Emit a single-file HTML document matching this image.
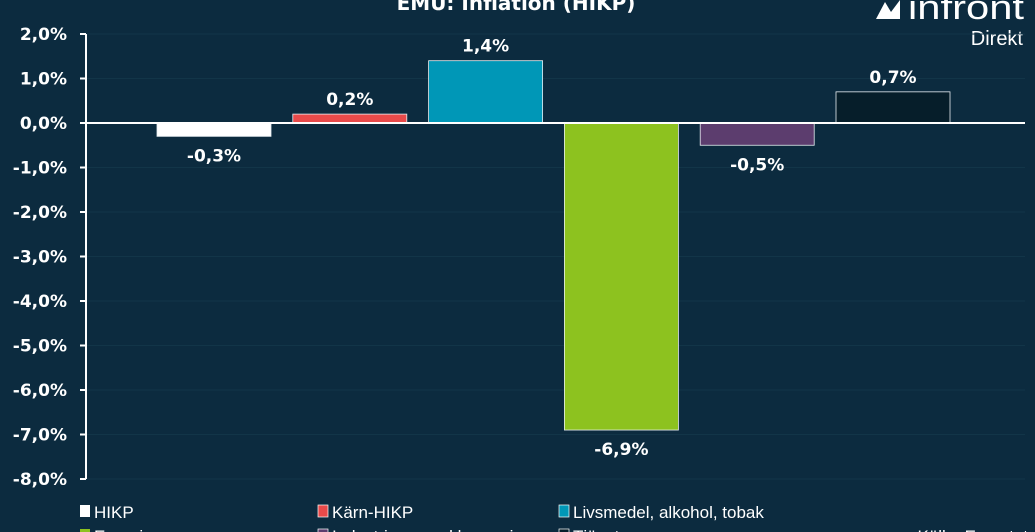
<!DOCTYPE html>
<html><head><meta charset="utf-8"><style>
body{margin:0;background:#0c2b3f;width:1035px;height:532px;overflow:hidden}
svg{display:block}
text{font-family:"DejaVu Sans",Verdana,sans-serif;fill:#fff}
.leg{font-family:"Liberation Sans",sans-serif;font-size:17px}
</style></head><body>
<svg id="c" width="1035" height="532">
<rect width="1035" height="532" fill="#0c2b3f"/>
<text x="516" y="10" text-anchor="middle" font-size="20" font-weight="bold">EMU: Inflation (HIKP)</text>
<g>
<polygon points="876,19 885,2 891,12 900,0 900,19" fill="#fff"/>
<text x="908" y="19" font-size="34" style="font-family:'Liberation Sans',sans-serif;font-weight:300" textLength="116" lengthAdjust="spacingAndGlyphs">infront</text>
<text x="1023" y="45" text-anchor="end" font-size="20" style="font-family:'Liberation Sans',sans-serif">Direkt</text>
</g>
<g id="grid"></g><g id="bars"></g><g id="axis"></g>
<g class="leg">
<rect x="80" y="505" width="10" height="12" fill="#fff"/><text class="leg" x="94" y="518">HIKP</text>
<rect x="318" y="505" width="10" height="12" fill="#e84a4a" stroke="#fff" stroke-width="0.7"/><text class="leg" x="332" y="518">Kärn-HIKP</text>
<rect x="559" y="505" width="10" height="12" fill="#0097b7" stroke="#fff" stroke-width="0.7"/><text class="leg" x="573" y="518">Livsmedel, alkohol, tobak</text>
<rect x="80" y="529" width="10" height="12" fill="#8dc21f"/><text class="leg" x="94" y="542">Energi</text>
<rect x="318" y="529" width="10" height="12" fill="#5c3d6e" stroke="#fff" stroke-width="0.7"/><text class="leg" x="332" y="542">Industrivaror exkl energi</text>
<rect x="559" y="529" width="10" height="12" fill="#061e2a" stroke="#fff" stroke-width="0.7"/><text class="leg" x="573" y="542">Tjänster</text>
<text class="leg" x="1028" y="542" text-anchor="end">Källa: Eurostat</text>
</g>
</svg>
<script>
const categories=["HIKP","Kärn-HIKP","Livsmedel, alkohol, tobak","Energi","Industrivaror exkl energi","Tjänster"];
const values=[-0.3,0.2,1.4,-6.9,-0.5,0.7];
const colors=["#ffffff","#e84a4a","#0097b7","#8dc21f","#5c3d6e","#061e2a"];
const ticks=[2,1,0,-1,-2,-3,-4,-5,-6,-7,-8];
const NS="http://www.w3.org/2000/svg";
const y=v=>123-v*44.5;
const x=i=>157+i*135.8;
const bw=114;
function mk(t,a,p){const e=document.createElementNS(NS,t);for(const k in a)e.setAttribute(k,a[k]);p.appendChild(e);return e;}
const G=document.getElementById('grid'),B=document.getElementById('bars'),A=document.getElementById('axis');
ticks.forEach(t=>{
 if(t!==0){const g=mk('line',{x1:86,x2:1025,y1:y(t),y2:y(t),stroke:'#123548','stroke-width':1},G);
 
 }
 const tk=mk('line',{x1:80,x2:86,y1:y(t),y2:y(t),stroke:'#fff','stroke-width':2},A);
 
 
 const l=mk('text',{x:67,y:y(t)+6,'text-anchor':'end','font-size':17,'font-weight':'bold'},A);
 l.textContent=t.toFixed(1).replace('.',',')+'%';
 
 
});
const ax=mk('line',{x1:86,x2:86,y1:y(2),y2:y(-8),stroke:'#fff','stroke-width':2},A);


values.forEach((v,i)=>{
 const top=Math.min(y(v),y(0)),h=Math.abs(y(v)-y(0));
 const r=mk('rect',{x:x(i),y:top,width:bw,height:h,fill:colors[i],stroke:'#e8eef2','stroke-width':0.8},B);
 
 
 const ty=v>=0?y(v)-9:y(v)+25;
 const l=mk('text',{x:x(i)+bw/2,y:ty,'text-anchor':'middle','font-size':17,'font-weight':'bold'},B);
 l.textContent=v.toFixed(1).replace('.',',')+'%';
 
 
});
const z=mk('line',{x1:86,x2:1025,y1:y(0),y2:y(0),stroke:'#fff','stroke-width':2},A);


</script>
</body></html>
